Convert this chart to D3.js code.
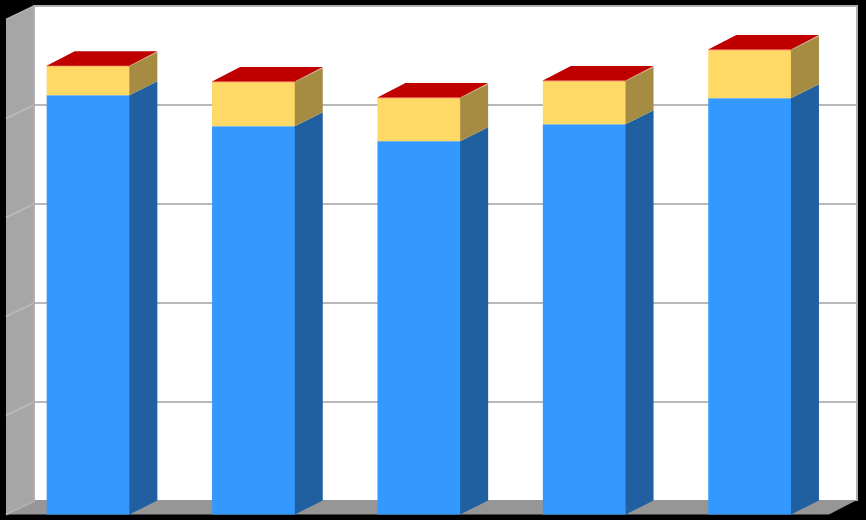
<!DOCTYPE html>
<html>
<head>
<meta charset="utf-8">
<script src="https://cdn.jsdelivr.net/npm/d3@7"></script>
<style>
html, body { margin: 0; padding: 0; background: #000; }
svg { display: block; }
</style>
</head>
<body>
<svg id="chart" width="866" height="520"></svg>
<script>
// values (no labels are shown in the reference)
var categories = ['A', 'B', 'C', 'D', 'E'];
var seriesBlue = [4.235, 3.922, 3.771, 3.942, 4.205];
var seriesYellow = [0.293, 0.445, 0.434, 0.435, 0.485];
var seriesRed = [0.006, 0.006, 0.006, 0.006, 0.006];
var gridTicks = [1, 2, 3, 4];

var seriesList = [
	{ values: seriesBlue, front: '#3399ff', side: '#2060a0' },
	{ values: seriesYellow, front: '#ffd966', side: '#a68c42' },
	{ values: seriesRed, front: '#ff3300', side: '#a68c42' }
];
var capColor = '#c00000';

var svg = d3.select('#chart');

// depth of the fake 3d box
var dx = 28, dy = -14;
var backNudge = 0.5;

var x = d3.scaleBand()
	.domain(categories)
	.range([5.3, 832.3])
	.paddingInner(0.5)
	.paddingOuter(0.25);

var y = d3.scaleLinear()
	.domain([0, 5])
	.range([514.5, 19.5]);

var left = 6, right = 829;

function poly(points) {
	return points.map(function(p) { return p.join(','); }).join(' ');
}

function backY(v) {
	return y(v) + dy + backNudge;
}

/* Walls and floor */
svg.append('rect')
	.attr('x', left + dx)
	.attr('y', backY(5))
	.attr('width', right - left)
	.attr('height', y(0) - y(5))
	.attr('fill', '#fff');

svg.append('polygon')
	.attr('points', poly([[left, y(5)], [left + dx, backY(5)], [left + dx, backY(0)], [left, y(0)]]))
	.attr('fill', '#a6a6a6');

svg.append('polygon')
	.attr('points', poly([[left, y(0)], [left + dx, backY(0) - 1], [right + dx, backY(0) - 1], [right, y(0)]]))
	.attr('fill', '#969696');

/* Gridlines run along the side wall and then the back wall */
svg.selectAll('.grid')
	.data(gridTicks)
	.enter().append('polyline')
	.attr('class', 'grid')
	.attr('points', function(d) {
		return poly([[left, y(d)], [left + dx, backY(d)], [right + dx, backY(d)]]);
	})
	.attr('fill', 'none')
	.attr('stroke', '#b8b8b8')
	.attr('stroke-width', 2);

// wall edges
svg.append('polyline')
	.attr('points', poly([[left, y(0)], [left + dx, backY(0)], [left + dx, backY(5)], [right + dx, backY(5)], [right + dx, backY(0)]]))
	.attr('fill', 'none')
	.attr('stroke', '#b0b0b0')
	.attr('stroke-width', 2);

svg.append('line')
	.attr('x1', left)
	.attr('y1', y(5))
	.attr('x2', left + dx)
	.attr('y2', backY(5))
	.attr('stroke', '#b0b0b0')
	.attr('stroke-width', 1.5);

/* Bars */
categories.forEach(function(cat, i) {
	var g = svg.append('g').attr('class', 'bar');
	var x0 = x(cat), x1 = x(cat) + x.bandwidth();
	var base = 0;

	seriesList.forEach(function(s) {
		var v0 = base, v1 = base + s.values[i];
		base = v1;

		// side starts under the front so no seam shows
		g.append('polygon')
			.attr('points', poly([[x1 - 1, y(v0)], [x1, y(v0)], [x1 + dx, y(v0) + dy], [x1 + dx, y(v1) + dy], [x1, y(v1)], [x1 - 1, y(v1)]]))
			.attr('fill', s.side);

		g.append('rect')
			.attr('x', x0)
			.attr('y', y(v1))
			.attr('width', x.bandwidth())
			.attr('height', y(v0) - y(v1))
			.attr('fill', s.front);
	});

	// only the top of the stack is visible
	g.append('polygon')
		.attr('points', poly([[x0, y(base)], [x0 + dx, y(base) + dy - 0.5], [x1 + dx, y(base) + dy - 0.5], [x1, y(base)]]))
		.attr('fill', capColor);
});
</script>
</body>
</html>
